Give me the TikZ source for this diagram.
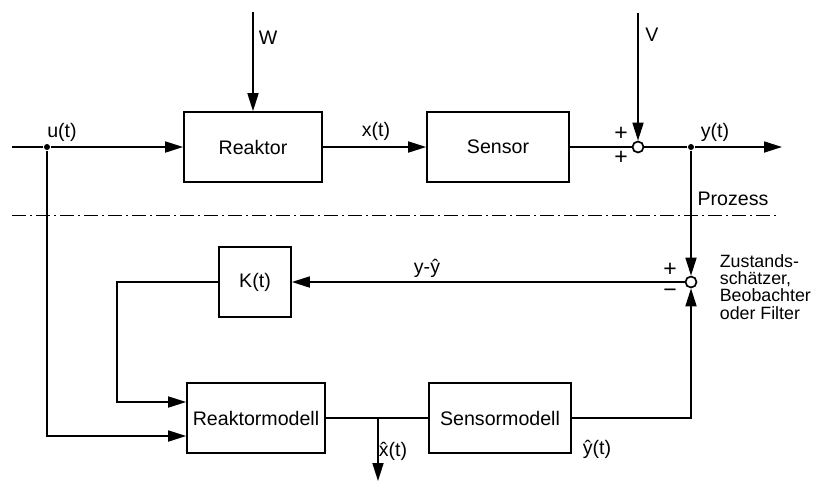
\documentclass[tikz,border=0pt]{standalone}
\usepackage{fontspec}
\setmainfont{Liberation Sans}
\usetikzlibrary{arrows.meta}

\begin{document}
\begin{tikzpicture}[x=0.5pt, y=-0.5pt, line width=0.85pt,
    font=\fontsize{9.8}{11}\selectfont,
    block/.style={draw, minimum height=35pt, inner sep=0pt},
    sumpt/.style={circle, draw, fill=white, minimum size=5.5pt, inner sep=0pt},
    junc/.style={circle, fill, minimum size=3pt, inner sep=0pt},
    sig/.style={-{Triangle[length=9pt,width=5.5pt]}},
    lbl/.style={inner sep=0pt},
    sgn/.style={inner sep=0pt, font=\fontsize{11.5}{11.5}\selectfont}]
\useasboundingbox (0,0) rectangle (813,484);
                    % Nodes
                    \node[block, minimum width=69pt] (reak) at (253,147) {Reaktor};
                    \node[block, minimum width=71pt] (sens) at (498,147) {Sensor};
                    \node[sumpt] (sum1) at (638,147) {};
                    \node[junc] (udot) at (47,147) {};
                    \node[junc] (ydot) at (691,147) {};
                    \node[sumpt] (sum2) at (691,282) {};
                    \node[block, minimum width=36pt] (gain) at (255,282) {K(t)};
                    \node[block, minimum width=69pt] (reakm) at (256,418) {Reaktormodell};
                    \node[block, minimum width=71pt] (sensm) at (500,418) {Sensormodell};
                    \coordinate (uin) at (12,147);
                    \coordinate (wtop) at (253,12);
                    \coordinate (vtop) at (638,13);
                    \coordinate (yout) at (782,147);
                    \coordinate (kbend) at (117,402);
                    \coordinate (ubend) at (47,436);
                    \coordinate (xbr) at (378,418);
                    \coordinate (xout) at (378,481);
                    \coordinate (sepl) at (12,215);
                    \coordinate (sepr) at (778,215);
                    % Labels
                    \node[lbl] (lu) at (62,132) {u(t)};
                    \node[lbl] (lw) at (268,38) {W};
                    \node[lbl] (lx) at (376,131) {x(t)};
                    \node[lbl] (lv) at (652,35) {V};
                    \node[lbl] (ly) at (715,132) {y(t)};
                    \node[sgn] (p1) at (621,134) {+};
                    \node[sgn] (p2) at (621,158) {+};
                    \node[lbl] (lp) at (733,199) {Prozess};
                    \node[lbl] (le) at (427,268) {y-ŷ};
                    \node[sgn] (p3) at (670,270) {+};
                    \node[sgn] (m3) at (670,293) {−};
                    \node[lbl, anchor=west, align=left, font=\fontsize{8.9}{8.6}\selectfont] (lz) at (719,287) {Zustands-\\schätzer,\\Beobachter\\oder Filter};
                    \node[lbl] (lxh) at (393,451) {\^{x}(t)};
                    \node[lbl] (lyh) at (597,449) {ŷ(t)};
                    % Edges
                    \draw (uin) -- (udot);
                    \draw[sig] (udot) -- (reak.west);
                    \draw[sig] (wtop) -- (reak.north);
                    \draw[sig] (reak.east) -- (sens.west);
                    \draw (sens.east) -- (sum1.west);
                    \draw[sig] (vtop) -- (sum1.north);
                    \draw (sum1.east) -- (ydot);
                    \draw[sig] (ydot) -- (yout);
                    \draw[sig] (ydot) -- (sum2.north);
                    \draw[sig] (sum2.west) -- (gain.east);
                    \draw[sig] (gain.west) -| (kbend) -- (reakm.west |- kbend);
                    \draw[sig] (udot) -- (ubend) -- (reakm.west |- ubend);
                    \draw (reakm.east) -- (sensm.west);
                    \draw[sig] (xbr) -- (xout);
                    \draw[sig] (sensm.east) -| (sum2.south);
                    \draw[line width=0.5pt, dash pattern=on 7pt off 2pt on 1pt off 2pt] (sepl) -- (sepr);
                \end{tikzpicture}
\end{document}
